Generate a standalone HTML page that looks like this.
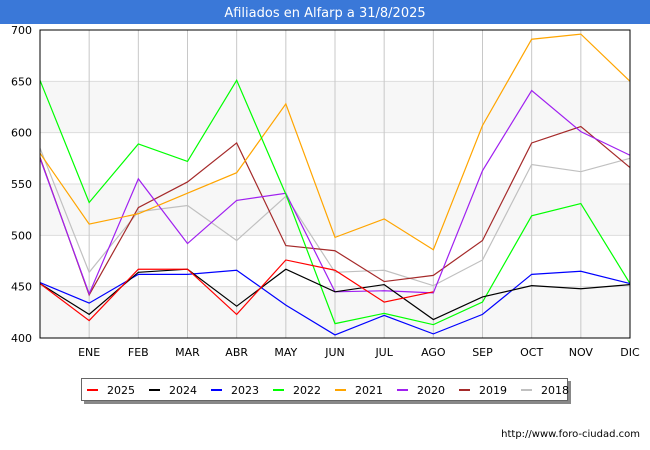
<!DOCTYPE html>
<html><head><meta charset="utf-8"><style>
body{margin:0;background:#fff;}
svg{display:block;font-family:"DejaVu Sans","Liberation Sans",sans-serif;}
</style></head><body>
<svg id="chart" width="650" height="450" viewBox="0 0 650 450" xmlns="http://www.w3.org/2000/svg">
<rect x="0" y="0" width="650" height="450" fill="#fff"/>
<rect x="0" y="0" width="650" height="24" fill="#3a78d8"/>
<text x="325" y="17" text-anchor="middle" font-size="13" fill="#fff">Afiliados en Alfarp a 31/8/2025</text>
<g id="bands"></g><g id="grid"></g><g id="axes"></g><g id="series"></g>
<rect x="40" y="30" width="590" height="308" fill="none" stroke="#000" stroke-width="1"/>
<g id="legend"></g>
<text x="640" y="437" text-anchor="end" font-size="10" fill="#000">http://www.foro-ciudad.com</text>
</svg>
<script>
const months = ["", "ENE","FEB","MAR","ABR","MAY","JUN","JUL","AGO","SEP","OCT","NOV","DIC"];
const yTicks = [400,450,500,550,600,650,700];
const years = ["2025","2024","2023","2022","2021","2020","2019","2018"];
const colors = ["#ff0000","#000000","#0000ff","#00ff00","#ffa500","#a020f0","#a52a2a","#c0c0c0"];
const s2025 = [453,417,467,467,423,476,466,435,445];
const s2024 = [453,423,464,467,431,467,445,452,418,440,451,448,452];
const s2023 = [454,434,462,462,466,432,403,422,404,423,462,465,453];
const s2022 = [651,532,589,572,651,540,414,424,413,435,519,531,453];
const s2021 = [580,511,521,541,561,628,498,516,486,607,691,696,650];
const s2020 = [575,443,555,492,534,541,445,446,444,563,641,601,578];
const s2019 = [576,442,527,552,590,490,485,455,461,495,590,606,566];
const s2018 = [585,464,523,529,495,538,464,466,451,476,569,562,575];
const seriesData = [s2025,s2024,s2023,s2022,s2021,s2020,s2019,s2018];

const NS="http://www.w3.org/2000/svg";
const X0=40,X1=630,Y0=338,Y1=30,YMIN=400,YMAX=700;
const xs=i=>X0+(X1-X0)*i/(months.length-1);
const ys=v=>Y0-(v-YMIN)/(YMAX-YMIN)*(Y0-Y1);
function mk(tag,attrs,parent){const e=document.createElementNS(NS,tag);for(const k in attrs)e.setAttribute(k,attrs[k]);parent.appendChild(e);return e;}
const bands=document.getElementById('bands'),grid=document.getElementById('grid'),axes=document.getElementById('axes'),ser=document.getElementById('series'),leg=document.getElementById('legend');
for(let i=0;i<yTicks.length-1;i++){
  if(i%2===0){const b=mk('rect',{x:X0,y:ys(yTicks[i+1]),width:X1-X0,height:ys(yTicks[i])-ys(yTicks[i+1]),fill:'#f7f7f7'},bands);
  
  }
}
yTicks.forEach(v=>{
  const l=mk('line',{x1:X0,x2:X1,y1:ys(v),y2:ys(v),stroke:'#dddddd','stroke-width':1},grid);
  
  
  const t=mk('text',{x:X0-8,y:ys(v)+4,'text-anchor':'end','font-size':11,fill:'#000'},axes);
  t.textContent=v;
  
  
});
months.forEach((m,i)=>{
  if(i===0)return;
  const l=mk('line',{x1:xs(i),x2:xs(i),y1:Y1,y2:Y0,stroke:'#c8c8c8','stroke-width':1},grid);
  
  
  const t=mk('text',{x:xs(i),y:356,'text-anchor':'middle','font-size':11,fill:'#000'},axes);
  t.textContent=m;
  
  
});
for(let k=seriesData.length-1;k>=0;k--){
  const pts=seriesData[k].map((v,i)=>xs(i)+','+ys(v)).join(' ');
  const p=mk('polyline',{points:pts,fill:'none',stroke:colors[k],'stroke-width':1.2},ser);
  
  
}
const sh=mk('rect',{x:84,y:381,width:487,height:23,fill:'#888'},leg);


const box=mk('rect',{x:81.5,y:378.5,width:486,height:22,fill:'#fff',stroke:'#666','stroke-width':1},leg);


years.forEach((y,k)=>{
  const bx=87+k*62;
  const l=mk('line',{x1:bx,x2:bx+11,y1:390,y2:390,stroke:colors[k],'stroke-width':2},leg);
  
  
  const t=mk('text',{x:bx+20,y:394,'font-size':11,fill:'#000'},leg);
  t.textContent=y;
  
  
});
</script>
</body></html>
